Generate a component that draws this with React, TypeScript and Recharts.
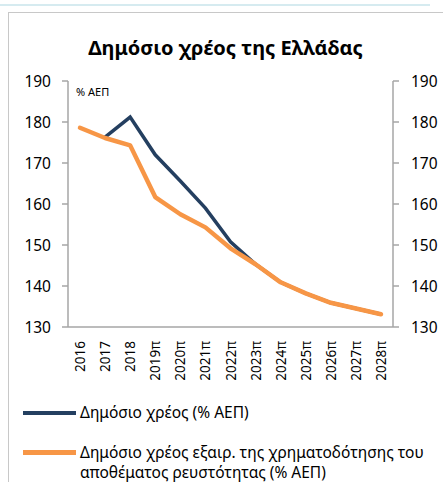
import React from 'react';
import { LineChart, Line, XAxis, YAxis } from 'recharts';

const categories = ['2016', '2017', '2018', '2019π', '2020π', '2021π', '2022π', '2023π', '2024π', '2025π', '2026π', '2027π', '2028π'];
const publicDebt: (number | null)[] = [null, 176.3, 181.2, 172.0, 165.6, 159.0, 150.8, 145.3, 140.9, 138.2, 135.9, 134.5, 133.1];
const debtExclLiquidity: number[] = [178.6, 176.1, 174.3, 161.7, 157.5, 154.3, 149.2, 145.3, 140.9, 138.2, 135.9, 134.5, 133.1];
const yTicks = [130, 140, 150, 160, 170, 180, 190];

const seriesNames = ['Δημόσιο χρέος (% ΑΕΠ)', 'Δημόσιο χρέος εξαιρ. της χρηματοδότησης του', 'αποθέματος ρευστότητας (% ΑΕΠ)'];
const title = 'Δημόσιο χρέος της Ελλάδας';
const unitLabel = '% ΑΕΠ';

const data = categories.map((c, i) => ({ cat: c, a: publicDebt[i], b: debtExclLiquidity[i] }));

const FONT = "'Noto Sans', 'Open Sans', sans-serif";
const BLUE = '#243f60';
const ORANGE = '#f79646';
const AXIS = '#a6a6a6';

const XTick = (props: any) => {
  const { x, y, payload } = props;
  return (
    <text x={x} y={y} transform={`rotate(-90, ${x}, ${y})`} textAnchor="end" dominantBaseline="central" fontFamily={FONT} fontSize={13.5} fill="#000">
      {payload.value}
    </text>
  );
};

export default function App() {
  return (
    <div style={{ position: 'fixed', left: 0, top: 0, width: 443, height: 482, overflow: 'hidden', background: '#fff', fontFamily: FONT }}>
      <div style={{ position: 'absolute', left: 0, top: 4, width: 430, height: 2, background: '#d6ebf0' }} />
      <div style={{ position: 'absolute', left: 8, top: 12, width: 460, height: 500, borderLeft: '1.5px solid #c8c8c8', borderTop: '1.5px solid #c8c8c8' }} />
      <div style={{ position: 'absolute', left: 0, width: 451, top: 34, textAlign: 'center', fontWeight: 700, fontSize: 20, color: '#000' }}>{title}</div>
      <div style={{ position: 'absolute', left: 0, top: 0 }}>
        <LineChart width={443} height={400} data={data} margin={{ top: 81, right: 0, left: 0, bottom: 13 }}>
          <XAxis dataKey="cat" xAxisId="x" height={60} interval={0} tick={<XTick />} tickLine={false} tickSize={0} tickMargin={14} stroke={AXIS} strokeWidth={1.5} padding={{ left: 12, right: 12 }} />
          <YAxis yAxisId="l" orientation="left" width={68} domain={[130, 190]} ticks={yTicks} interval={0} tickSize={6} tickMargin={11} stroke={AXIS} strokeWidth={1.5}
            tick={{ fill: '#000', fontSize: 15.5, fontFamily: FONT }} allowDataOverflow />
          <YAxis yAxisId="r" orientation="right" width={50} domain={[130, 190]} ticks={yTicks} interval={0} tickSize={6} tickMargin={12} stroke={AXIS} strokeWidth={1.5}
            tick={{ fill: '#000', fontSize: 15.5, fontFamily: FONT, textAnchor: 'start' }} allowDataOverflow />
          <Line xAxisId="x" yAxisId="l" dataKey="a" stroke={BLUE} strokeWidth={3.5} dot={false} isAnimationActive={false} connectNulls={false} strokeLinejoin="miter" />
          <Line xAxisId="x" yAxisId="r" dataKey="b" stroke={ORANGE} strokeWidth={4.5} dot={false} isAnimationActive={false} strokeLinejoin="round" strokeLinecap="round" />
        </LineChart>
      </div>
      <div style={{ position: 'absolute', left: 76, top: 84, fontSize: 11, color: '#000' }}>{unitLabel}</div>
      <div style={{ position: 'absolute', left: 23, top: 402, width: 420, fontSize: 15.5, color: '#000', lineHeight: '20px' }}>
        <div style={{ display: 'flex', alignItems: 'flex-start' }}>
          <div style={{ width: 53, height: 3.5, background: BLUE, marginTop: 9, flex: 'none' }} />
          <div style={{ marginLeft: 4 }}>{seriesNames[0]}</div>
        </div>
        <div style={{ display: 'flex', alignItems: 'flex-start', marginTop: 20 }}>
          <div style={{ width: 53, height: 4.5, background: ORANGE, marginTop: 8, flex: 'none' }} />
          <div style={{ marginLeft: 4, whiteSpace: 'nowrap' }}>{seriesNames[1]}<br />{seriesNames[2]}</div>
        </div>
      </div>
    </div>
  );
}
